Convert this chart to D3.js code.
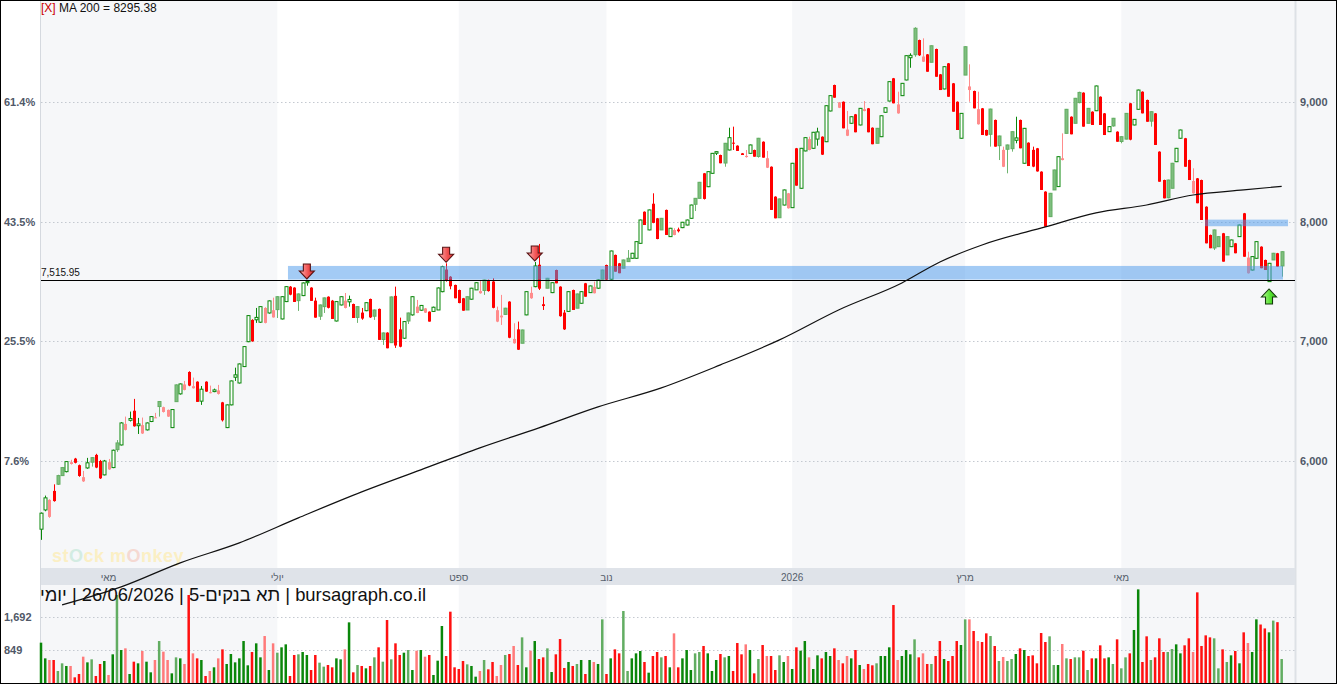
<!DOCTYPE html>
<html>
<head>
<meta charset="utf-8">
<script src="https://cdn.jsdelivr.net/npm/d3@7"></script>
<style>
  body { margin: 0; background: #fff; }
  svg { display: block; font-family: "Liberation Sans", Arial, sans-serif; }
</style>
</head>
<body>
<div id="chart"></div>
<script>
var W = 1337, H = 684;

// daily candles, index 0 = first visible day
var opens = [5430,5591,5533,5750,5878,5945,5911,5975,6020,5965,5830,5942,6028,6051,6000,5884,5930,5945,6151,6134,
6260,6340,6420,6295,6230,6260,6330,6363,6497,6410,6371,6279,6636,6561,6594,6744,6608,6663,6500,6663,
6569,6580,6561,6490,6279,6469,6700,6652,6789,6997,7179,7180,7160,7154,7237,7200,7373,7187,7332,7457,
7449,7396,7382,7490,7449,7340,7304,7363,7373,7340,7170,7304,7279,7330,7312,7290,7240,7256,7354,7262,
7271,7070,7073,7371,7380,7100,7026,7237,7221,7237,7260,7240,7248,7250,7262,7415,7600,7540,7471,7429,
7360,7373,7352,7430,7402,7513,7513,7500,7165,7200,7277,7332,6984,7100,7095,7221,7360,7457,7640,7310,
7527,7407,7596,7457,7240,7250,7429,7396,7318,7485,7407,7402,7444,7596,7638,7519,7722,7652,7680,7694,
7694,7694,7819,8083,7931,8150,8028,8028,8098,7875,7889,7935,7950,7972,8028,8195,8329,8404,8292,8404,
8572,8557,8655,8599,8660,8635,8571,8540,8571,8599,8697,8668,8451,8459,8209,8190,8139,8112,8117,8613,
8279,8591,8599,8613,8690,8710,8668,8925,9142,8952,9002,8718,8822,8897,8808,8925,8947,8785,8780,8710,
8914,9008,9198,8905,9053,9184,9370,9616,9518,9337,9398,9470,9443,9231,9109,9323,9156,9002,8697,9462,
9100,9092,8814,8947,8766,8941,8850,8716,8459,8641,8752,8680,8850,8488,8660,8600,8613,8418,8251,8237,
8432,8293,8515,8939,8877,9031,9080,9078,8947,8919,8927,9044,8905,8752,8864,8752,8710,8905,8989,8808,
8939,9086,9017,8919,8905,8585,8348,8348,8488,8501,8697,8697,8515,8237,8362,8348,8125,7889,7931,7875,
7903,7875,7791,7819,7875,8070,7569,7596,7694,7791,7680,7499,7736,7736,7749];
var highs = [5570,5711,5680,5805,5885,5950,5998,6010,6026,5970,5917,6026,6032,6060,6009,6009,6017,6095,6175,6325,
6371,6413,6519,6360,6363,6322,6375,6402,6500,6454,6430,6432,6640,6648,6669,6750,6697,6666,6627,6666,
6630,6605,6636,6494,6472,6672,6780,6815,6960,7220,7185,7279,7292,7285,7342,7365,7378,7378,7462,7462,
7452,7400,7492,7513,7452,7365,7308,7366,7376,7346,7335,7376,7404,7382,7315,7294,7279,7326,7357,7266,
7274,7074,7076,7375,7457,7198,7170,7240,7378,7346,7304,7279,7250,7290,7450,7632,7652,7545,7474,7432,
7363,7376,7447,7493,7505,7516,7516,7527,7290,7388,7280,7335,7151,7165,7098,7418,7457,7663,7814,7373,
7530,7493,7599,7460,7262,7418,7432,7399,7418,7488,7466,7499,7516,7599,7641,7758,7725,7655,7683,7763,
7739,7836,8017,8086,8101,8237,8031,8031,8101,7948,7945,7950,7998,8017,8142,8198,8332,8407,8421,8574,
8588,8560,8658,8785,8794,8638,8574,8599,8644,8602,8700,8671,8591,8462,8212,8193,8268,8240,8491,8616,
8616,8705,8710,8750,8785,8713,8972,9056,9145,9000,9005,8925,8880,8900,8950,9008,8950,8788,8783,8888,
8955,9173,9201,9086,9159,9390,9407,9625,9521,9532,9401,9473,9446,9234,9298,9326,9159,9005,8908,9465,
9315,9095,9086,8950,8769,8944,8853,8719,8627,8644,8755,8877,8853,8783,8663,8627,8616,8421,8254,8240,
8435,8546,8738,8942,8880,9034,9086,9081,8950,8922,9137,9047,8908,8797,8867,8755,8713,8908,8992,8858,
9103,9089,9020,8922,8908,8588,8351,8351,8491,8616,8769,8700,8518,8446,8365,8351,8128,7892,7934,7878,
7906,7878,7850,7822,7975,8073,7749,7711,7836,7794,7683,7655,7739,7739,7752];
var lows = [5341,5580,5525,5660,5800,5875,5905,5970,5980,5868,5825,5935,5953,5940,5850,5880,5926,5940,6076,6130,
6255,6330,6287,6226,6226,6255,6325,6360,6371,6405,6368,6275,6496,6555,6590,6625,6605,6494,6469,6578,
6565,6575,6555,6330,6275,6465,6669,6648,6785,6993,6997,7154,7154,7150,7232,7198,7195,7183,7328,7385,
7329,7254,7378,7465,7338,7198,7179,7237,7275,7187,7166,7300,7275,7290,7195,7154,7180,7252,7195,7179,
7012,6970,6942,6989,6945,6950,7020,7145,7215,7235,7255,7237,7165,7248,7262,7410,7499,7435,7360,7318,
7256,7262,7348,7429,7398,7388,7415,7276,7160,7137,7221,7026,6980,6928,6984,7218,7355,7452,7429,7262,
7444,7403,7485,7206,7095,7248,7262,7277,7315,7373,7405,7400,7440,7519,7510,7515,7582,7569,7611,7666,
7690,7690,7815,7972,7928,7987,7853,7931,7889,7872,7886,7910,7946,7969,8025,8089,8195,8185,8289,8401,
8557,8488,8459,8596,8599,8591,8557,8535,8568,8543,8535,8535,8448,8098,8028,8033,8136,8109,8114,8301,
8276,8588,8596,8610,8635,8557,8665,8922,9036,8949,8780,8715,8819,8747,8805,8922,8747,8647,8655,8707,
8911,9005,8989,8902,9050,9181,9286,9378,9385,9334,9253,9332,9211,9100,9106,9044,8919,8766,8694,9225,
9002,8947,8811,8724,8718,8627,8627,8515,8456,8404,8585,8655,8613,8485,8465,8455,8418,8265,7958,8042,
8265,8290,8512,8738,8730,8822,8989,8794,8822,8808,8924,8808,8724,8749,8794,8668,8655,8688,8680,8805,
8936,8905,8835,8794,8641,8334,8195,8195,8279,8498,8694,8459,8348,8234,8154,8014,7819,7778,7763,7791,
7666,7722,7788,7736,7872,7707,7566,7593,7691,7611,7596,7496,7680,7624,7540];
var closes = [5564,5692,5675,5665,5806,5878,5995,5990,5985,5875,5865,5985,5990,5945,5855,6000,5990,6090,6095,6318,
6310,6355,6290,6310,6300,6318,6371,6365,6455,6450,6427,6430,6496,6644,6640,6630,6625,6494,6600,6580,
6575,6594,6590,6340,6469,6669,6720,6811,6956,7215,7000,7200,7290,7279,7338,7260,7265,7373,7457,7390,
7329,7340,7488,7500,7338,7198,7210,7290,7280,7187,7332,7373,7340,7350,7195,7200,7190,7323,7200,7210,
7012,7015,6942,6989,6965,6955,7165,7170,7373,7290,7300,7275,7165,7285,7446,7624,7510,7460,7360,7320,
7256,7262,7444,7490,7420,7425,7420,7280,7260,7215,7225,7030,7020,6930,6984,7415,7405,7630,7440,7295,
7444,7490,7485,7210,7100,7415,7262,7277,7415,7373,7463,7455,7513,7519,7515,7755,7582,7569,7611,7666,
7736,7833,8014,7972,8098,7990,7855,7931,7889,7945,7930,7920,7995,8014,8139,8145,8195,8190,8418,8571,
8585,8488,8490,8702,8655,8591,8557,8550,8641,8543,8545,8535,8530,8098,8028,8033,8265,8237,8488,8301,
8613,8702,8690,8747,8750,8560,8969,9053,9036,8997,8780,8770,8877,8747,8947,8940,8747,8647,8655,8885,
8952,9170,8989,8980,9156,9387,9390,9395,9390,9380,9253,9332,9211,9100,9295,9044,8919,8766,8905,9225,
9130,8947,8940,8724,8720,8730,8627,8635,8600,8605,8610,8700,8613,8780,8465,8460,8420,8265,7958,8042,
8265,8543,8530,8738,8730,8822,8995,8794,8822,8808,9134,8808,8724,8794,8800,8668,8670,8690,8685,8855,
9100,8905,8835,8840,8641,8334,8195,8200,8279,8613,8766,8459,8348,8340,8154,8014,7819,7778,7780,7791,
7666,7722,7847,7736,7972,7707,7700,7708,7833,7611,7596,7652,7680,7624,7630];
var volumes = [1036,635,593,593,312,508,440,440,150,235,678,533,610,184,491,567,210,738,2254,848,
891,235,550,508,823,550,278,593,1078,806,593,252,661,635,491,2254,763,635,593,184,
312,406,635,865,491,746,533,635,1078,457,797,1019,661,1206,337,1019,780,917,993,184,
721,738,797,721,337,721,525,423,465,406,635,610,865,1555,278,465,440,380,440,661,
917,550,1615,610,1019,721,780,848,337,831,848,678,721,210,576,1462,695,
1828,406,363,567,482,440,167,312,593,355,542,184,465,721,746,951,465,1172,406,831,
1078,618,661,891,286,738,1129,389,542,440,491,593,235,593,542,491,1632,235,635,865,
763,1845,312,635,763,823,542,269,695,797,661,695,406,1274,406,635,848,337,763,797,
951,763,312,593,746,661,695,312,1027,738,993,848,252,618,976,695,695,337,712,542,
695,363,917,831,1078,661,363,712,635,797,695,891,593,508,695,635,848,465,363,491,
457,508,695,695,917,1998,593,
695,848,738,1121,661,763,491,491,695,1078,618,567,695,1078,976,1632,1632,1334,1078,1053,
1274,1206,951,567,670,567,618,746,891,848,695,712,508,1283,1053,1198,465,465,1002,635,
618,661,661,831,337,635,635,968,635,661,491,1121,380,661,763,1360,2398,542,1198,593,
661,1147,797,797,874,993,763,968,1147,797,2322,951,1223,1172,1147,380,865,542,712,823,
508,1300,1027,797,1632,1500,1400,1300,1600,1560,618];

// MA 200 read at a few days
var maIdx = [5,19,33,47,61,76,90,104,118,132,147,161,175,189,204,213,223,238,250,262,273,285,294];
var maVals = [4798,4948,5149,5316,5525,5742,5926,6110,6277,6452,6611,6803,7012,7262,7488,7663,7805,7956,8073,8139,8223,8265,8295.38];

var monthIdx = [16,56,99,134,178,219,256];
var monthLabels = ["מאי","יולי","ספט","נוב","2026","מרץ","מאי"];
var bandEdges = [56,99,134,178,219,256];

var priceTicks = [6000,7000,8000,9000];
var pctLabels = ["7.6%","25.5%","43.5%","61.4%"];
var volTicks = [849,1692];

var levelPrice = 7515.95;
var zoneStart = [59,276.3], zoneEnd = [294.3,295.5];
var zoneLow = [7516,7962], zoneHigh = [7630,8017];
var downArrows = [63,96,117];
var upArrows = [291];

var left = 41, right = 1295;
var n = closes.length;

var svg = d3.select("#chart").append("svg").attr("width", W).attr("height", H);

var x = d3.scaleLinear().domain([0, 294]).range([41, 41 + 4.22 * 294]);
var y = d3.scaleLinear().domain([6000, 9000]).range([461, 102]);
var yv = d3.scaleLinear().domain([0, 1692]).range([683.2, 617]);

// backgrounds
svg.append("rect").attr("x", 0).attr("y", 0).attr("width", W).attr("height", H).attr("fill", "#fff");
svg.append("rect").attr("x", right).attr("y", 0).attr("width", W - right).attr("height", H).attr("fill", "#f6f7f9");

var edges = [left].concat(bandEdges.map(function(d){ return x(d); })).concat([right]);
for (var b = 0; b < edges.length - 1; b += 2) {
    svg.append("rect").attr("x", edges[b]).attr("y", 0)
        .attr("width", edges[b+1] - edges[b]).attr("height", H)
        .attr("fill", "#f6f7f9");
}
svg.append("line").attr("x1", left - 0.5).attr("x2", left - 0.5).attr("y1", 0).attr("y2", H)
    .attr("stroke", "#d5d9df");
svg.append("line").attr("x1", right + 0.5).attr("x2", right + 0.5).attr("y1", 0).attr("y2", H)
    .attr("stroke", "#dde1e6").attr("stroke-width", 2);

// date band
svg.append("rect").attr("x", left).attr("y", 568).attr("width", right - left).attr("height", 17)
    .attr("fill", "#dfe3e9");
svg.selectAll(".mlab").data(monthIdx).enter().append("text")
    .attr("x", function(d){ return x(d); }).attr("y", 581)
    .attr("text-anchor", "middle").attr("font-size", 10).attr("fill", "#555e6b")
    .text(function(d, k){ return monthLabels[k]; });

// grid
svg.selectAll(".grid").data(priceTicks).enter().append("line")
    .attr("x1", left).attr("x2", right)
    .attr("y1", function(d){ return Math.round(y(d)) + 0.5; })
    .attr("y2", function(d){ return Math.round(y(d)) + 0.5; })
    .attr("stroke", "#c4c9d0").attr("stroke-dasharray", "1.5,2.5");
svg.selectAll(".vgrid").data(volTicks).enter().append("line")
    .attr("x1", left).attr("x2", right)
    .attr("y1", function(d){ return Math.round(yv(d)) + 0.5; })
    .attr("y2", function(d){ return Math.round(yv(d)) + 0.5; })
    .attr("stroke", "#c4c9d0").attr("stroke-dasharray", "1.5,2.5");

// watermark
var wm = svg.append("text").attr("x", 52).attr("y", 562)
    .attr("font-size", 18).attr("font-weight", "bold").attr("fill", "#fbefc4")
    .attr("letter-spacing", 0.5);
wm.append("tspan").text("st");
wm.append("tspan").attr("fill", "#d3ece2").text("O");
wm.append("tspan").text("ck m");
wm.append("tspan").attr("fill", "#f5d9d2").text("O");
wm.append("tspan").text("nkey");

// candle colours
function candleStyle(i) {
    var prev = i > 0 ? closes[i-1] : opens[i];
    var up = closes[i] >= prev;
    var hollow = closes[i] > opens[i];
    if (up && hollow) return { fill: "#fff", stroke: "#0a870a", wick: "#0a870a", vol: "#0a870a" };
    if (up) return { fill: "#7fbe7f", stroke: "#62ad62", wick: "#6fb46f", vol: "#62ad62" };
    if (hollow) return { fill: "#ff8c8c", stroke: "none", wick: "#ff8c8c", vol: "#ff7a7a" };
    return { fill: "#ff0000", stroke: "none", wick: "#ff0000", vol: "#ff1010" };
}

var idx = d3.range(n);

// volume
svg.selectAll(".vol").data(idx).enter().append("rect")
    .attr("x", function(i){ return x(i) - 1.25; })
    .attr("width", 2.5)
    .attr("y", function(i){ return yv(volumes[i]); })
    .attr("height", function(i){ return yv(0) - yv(volumes[i]); })
    .attr("fill", function(i){ return candleStyle(i).vol; });

// headers
var hd = svg.append("text").attr("x", left).attr("y", 12).attr("font-size", 12);
hd.append("tspan").attr("fill", "#cc0000").text("[X]");
hd.append("tspan").attr("fill", "#111").text(" MA 200 = 8295.38");

svg.append("text").attr("x", 426).attr("y", 601)
    .attr("direction", "rtl").attr("text-anchor", "start")
    .attr("font-size", 18.4).attr("fill", "#111")
    .text("bursagraph.co.il | תא בנקים-5 | 26/06/2026 | יומי");

// candles
var cg = svg.append("g");
cg.selectAll(".wick").data(idx).enter().append("line")
    .attr("x1", function(i){ return Math.round(x(i)) + 0.5; })
    .attr("x2", function(i){ return Math.round(x(i)) + 0.5; })
    .attr("y1", function(i){ return y(highs[i]); })
    .attr("y2", function(i){ return y(lows[i]); })
    .attr("stroke", function(i){ return candleStyle(i).wick; });
cg.selectAll(".body").data(idx).enter().append("rect")
    .attr("x", function(i){ return Math.round(x(i)) - 1; })
    .attr("width", 3)
    .attr("y", function(i){ return y(Math.max(opens[i], closes[i])); })
    .attr("height", function(i){ return Math.max(1, Math.abs(y(opens[i]) - y(closes[i]))); })
    .attr("fill", function(i){ return candleStyle(i).fill; })
    .attr("stroke", function(i){ return candleStyle(i).stroke; });

// zones
svg.selectAll(".zone").data(zoneStart).enter().append("rect")
    .attr("x", function(d, k){ return x(d) - 2; })
    .attr("width", function(d, k){ return x(zoneEnd[k]) - x(d) + 2; })
    .attr("y", function(d, k){ return y(zoneHigh[k]); })
    .attr("height", function(d, k){ return y(zoneLow[k]) - y(zoneHigh[k]); })
    .attr("fill", "rgba(71,151,235,0.5)");

// level line
svg.append("line").attr("x1", left).attr("x2", right)
    .attr("y1", Math.round(y(levelPrice)) + 0.5).attr("y2", Math.round(y(levelPrice)) + 0.5)
    .attr("stroke", "#000");
svg.append("text").attr("x", left).attr("y", y(levelPrice) - 4)
    .attr("font-size", 10).attr("fill", "#111").text(d3.format(",.2f")(levelPrice));

// MA 200
var ma = d3.line().x(function(d, k){ return x(maIdx[k]); }).y(function(d){ return y(d); })
    .curve(d3.curveMonotoneX);
svg.append("path").datum(maVals).attr("d", ma)
    .attr("fill", "none").attr("stroke", "#111").attr("stroke-width", 1.2);

// arrows
var defs = svg.append("defs");
var rg = defs.append("linearGradient").attr("id", "gRed").attr("x1", 0).attr("x2", 1).attr("y1", 0).attr("y2", 0);
rg.append("stop").attr("offset", "0%").attr("stop-color", "#ffb0b0");
rg.append("stop").attr("offset", "60%").attr("stop-color", "#f05050");
rg.append("stop").attr("offset", "100%").attr("stop-color", "#d83030");
var gg = defs.append("linearGradient").attr("id", "gGreen").attr("x1", 0).attr("x2", 1).attr("y1", 0).attr("y2", 0);
gg.append("stop").attr("offset", "0%").attr("stop-color", "#b8ff98");
gg.append("stop").attr("offset", "60%").attr("stop-color", "#55e030");
gg.append("stop").attr("offset", "100%").attr("stop-color", "#38c020");

var downPath = "M-3.5,-15 L3.5,-15 L3.5,-8 L7.5,-8 L0,0 L-7.5,-8 L-3.5,-8 Z";
svg.selectAll(".darr").data(downArrows).enter().append("path")
    .attr("d", downPath)
    .attr("transform", function(i){ return "translate(" + x(i) + "," + (y(highs[i]) - 1) + ")"; })
    .attr("fill", "url(#gRed)").attr("stroke", "#5a1414").attr("stroke-width", 1.1);
svg.selectAll(".uarr").data(upArrows).enter().append("path")
    .attr("d", downPath)
    .attr("transform", function(i){ return "translate(" + x(i) + "," + (y(lows[i]) + 7) + ") scale(1,-1)"; })
    .attr("fill", "url(#gGreen)").attr("stroke", "#143a0c").attr("stroke-width", 1.1);

// axis labels
svg.selectAll(".rlab").data(priceTicks).enter().append("text")
    .attr("x", 1300).attr("y", function(d){ return y(d) + 4; })
    .attr("font-size", 11).attr("font-weight", "bold").attr("fill", "#4f5868")
    .text(function(d){ return d3.format(",")(d); });
svg.selectAll(".llab").data(priceTicks).enter().append("text")
    .attr("x", 4).attr("y", function(d){ return y(d) + 4; })
    .attr("font-size", 11).attr("font-weight", "bold").attr("fill", "#4f5868")
    .text(function(d, k){ return pctLabels[k]; });
svg.selectAll(".vlab").data(volTicks).enter().append("text")
    .attr("x", 4).attr("y", function(d){ return yv(d) + 4; })
    .attr("font-size", 11).attr("font-weight", "bold").attr("fill", "#4f5868")
    .text(function(d){ return d3.format(",")(d); });

// frame
svg.append("rect").attr("x", 0.5).attr("y", 0.5).attr("width", W - 1).attr("height", H - 1)
    .attr("fill", "none").attr("stroke", "#000");
</script>
</body>
</html>
